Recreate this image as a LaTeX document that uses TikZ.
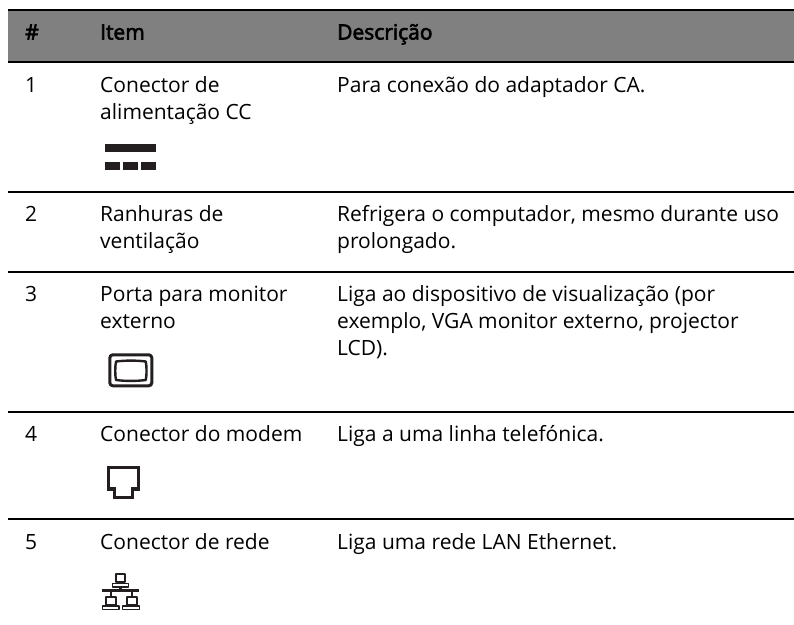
\documentclass[tikz,border=0pt]{standalone}
\usepackage{fontspec}
\setmainfont{Open Sans}
\newfontfamily\headfont{Open Sans}[FakeBold=3]
\definecolor{ink}{HTML}{231F20}
\tikzset{
  rulebar/.style={line width=2pt,draw=black},
  cell/.style={anchor=base west,inner sep=0pt,font=\fontsize{21}{25}\selectfont,text=black},
  hcell/.style={anchor=base west,inner sep=0pt,font=\fontsize{21}{25}\headfont,text=black},
  iconline/.style={draw=ink,line join=round},
}
\begin{document}
\begin{tikzpicture}[x=1pt,y=-1pt]
\useasboundingbox (0,0) rectangle (794,624);
\fill[black!50] (8,10) rectangle (794,62);
\draw[rulebar] (8,10) -- (794,10);
\draw[rulebar] (8,62) -- (794,62);
\draw[rulebar] (8,192) -- (794,192);
\draw[rulebar] (8,271.7) -- (794,271.7);
\draw[rulebar] (8,412) -- (794,412);
\draw[rulebar] (8,519.3) -- (794,519.3);
\node[hcell] (h1) at (25,39.5) {\#};
\node[hcell] (h2) at (100,39.5) {Item};
\node[hcell] (h3) at (337,39.5) {Descrição};
\node[cell] (n1) at (25,92.7) {1};
\node[cell] (i1a) at (100,92.7) {Conector de};
\node[cell] (i1b) at (100,119.3) {alimentação CC};
\node[cell] (d1) at (337,92.7) {Para conexão do adaptador CA.};
\node[cell] (n2) at (25,221.7) {2};
\node[cell] (i2a) at (100,221.7) {Ranhuras de};
\node[cell] (i2b) at (100,248.3) {ventilação};
\node[cell] (d2a) at (337,221.7) {Refrigera o computador, mesmo durante uso};
\node[cell] (d2b) at (337,248.3) {prolongado.};
\node[cell] (n3) at (25,301.7) {3};
\node[cell] (i3a) at (100,301.7) {Porta para monitor};
\node[cell] (i3b) at (100,328.3) {externo};
\node[cell] (d3a) at (337,301.7) {Liga ao dispositivo de visualização (por};
\node[cell] (d3b) at (337,328.3) {exemplo, VGA monitor externo, projector};
\node[cell] (d3c) at (337,355) {LCD).};
\node[cell] (n4) at (25,441.7) {4};
\node[cell] (i4) at (100,441.7) {Conector do modem};
\node[cell] (d4) at (337,441.7) {Liga a uma linha telefónica.};
\node[cell] (n5) at (25,549.3) {5};
\node[cell] (i5) at (100,549.3) {Conector de rede};
\node[cell] (d5) at (337,549.3) {Liga uma rede LAN Ethernet.};
% DC icon
\fill[ink] (105,144) rectangle (155.5,152);
\fill[ink] (105,162) rectangle (120,170);
\fill[ink] (123,162) rectangle (138,170);
\fill[ink] (140.5,162) rectangle (155.5,170);
% monitor icon
\draw[iconline,line width=3pt,rounded corners=3pt] (109.8,354.8) rectangle (151.8,385.8);
\draw[iconline,line width=2.4pt] (116,361.5) .. controls (125,360.3) and (137,360.3) .. (145.8,361.5) .. controls (146.8,367) and (146.8,375) .. (145.8,380) .. controls (137,381.2) and (125,381.2) .. (116,380) .. controls (115,375) and (115,367) .. (116,361.5) -- cycle;
% modem icon
\draw[iconline,line width=3.4pt,line join=miter] (108.4,467.7) -- (138.3,467.7) -- (138.3,489) -- (132.6,489) -- (132.6,497.6) -- (114.4,497.6) -- (114.4,489) -- (108.4,489) -- cycle;
% network icon
\draw[iconline,line width=1.9pt] (115.8,574) rectangle (125.2,582);
\draw[iconline,line width=1.5pt] (112.4,583.5) rectangle (128.6,586.8);
\draw[iconline,line width=3pt] (101.7,590.7) -- (139.3,590.7);
\draw[iconline,line width=2.2pt] (120.5,586.8) -- (120.5,590.7);
\draw[iconline,line width=2.2pt] (111,590.7) -- (111,597);
\draw[iconline,line width=2.2pt] (132,590.7) -- (132,597);
\draw[iconline,line width=1.9pt] (105.8,597.4) rectangle (116,604.6);
\draw[iconline,line width=1.5pt] (102.4,605.8) rectangle (118.8,609.5);
\draw[iconline,line width=1.9pt] (126.8,597.4) rectangle (137.2,604.6);
\draw[iconline,line width=1.5pt] (122.4,605.8) rectangle (139.5,609.5);
\end{tikzpicture}
\end{document}
